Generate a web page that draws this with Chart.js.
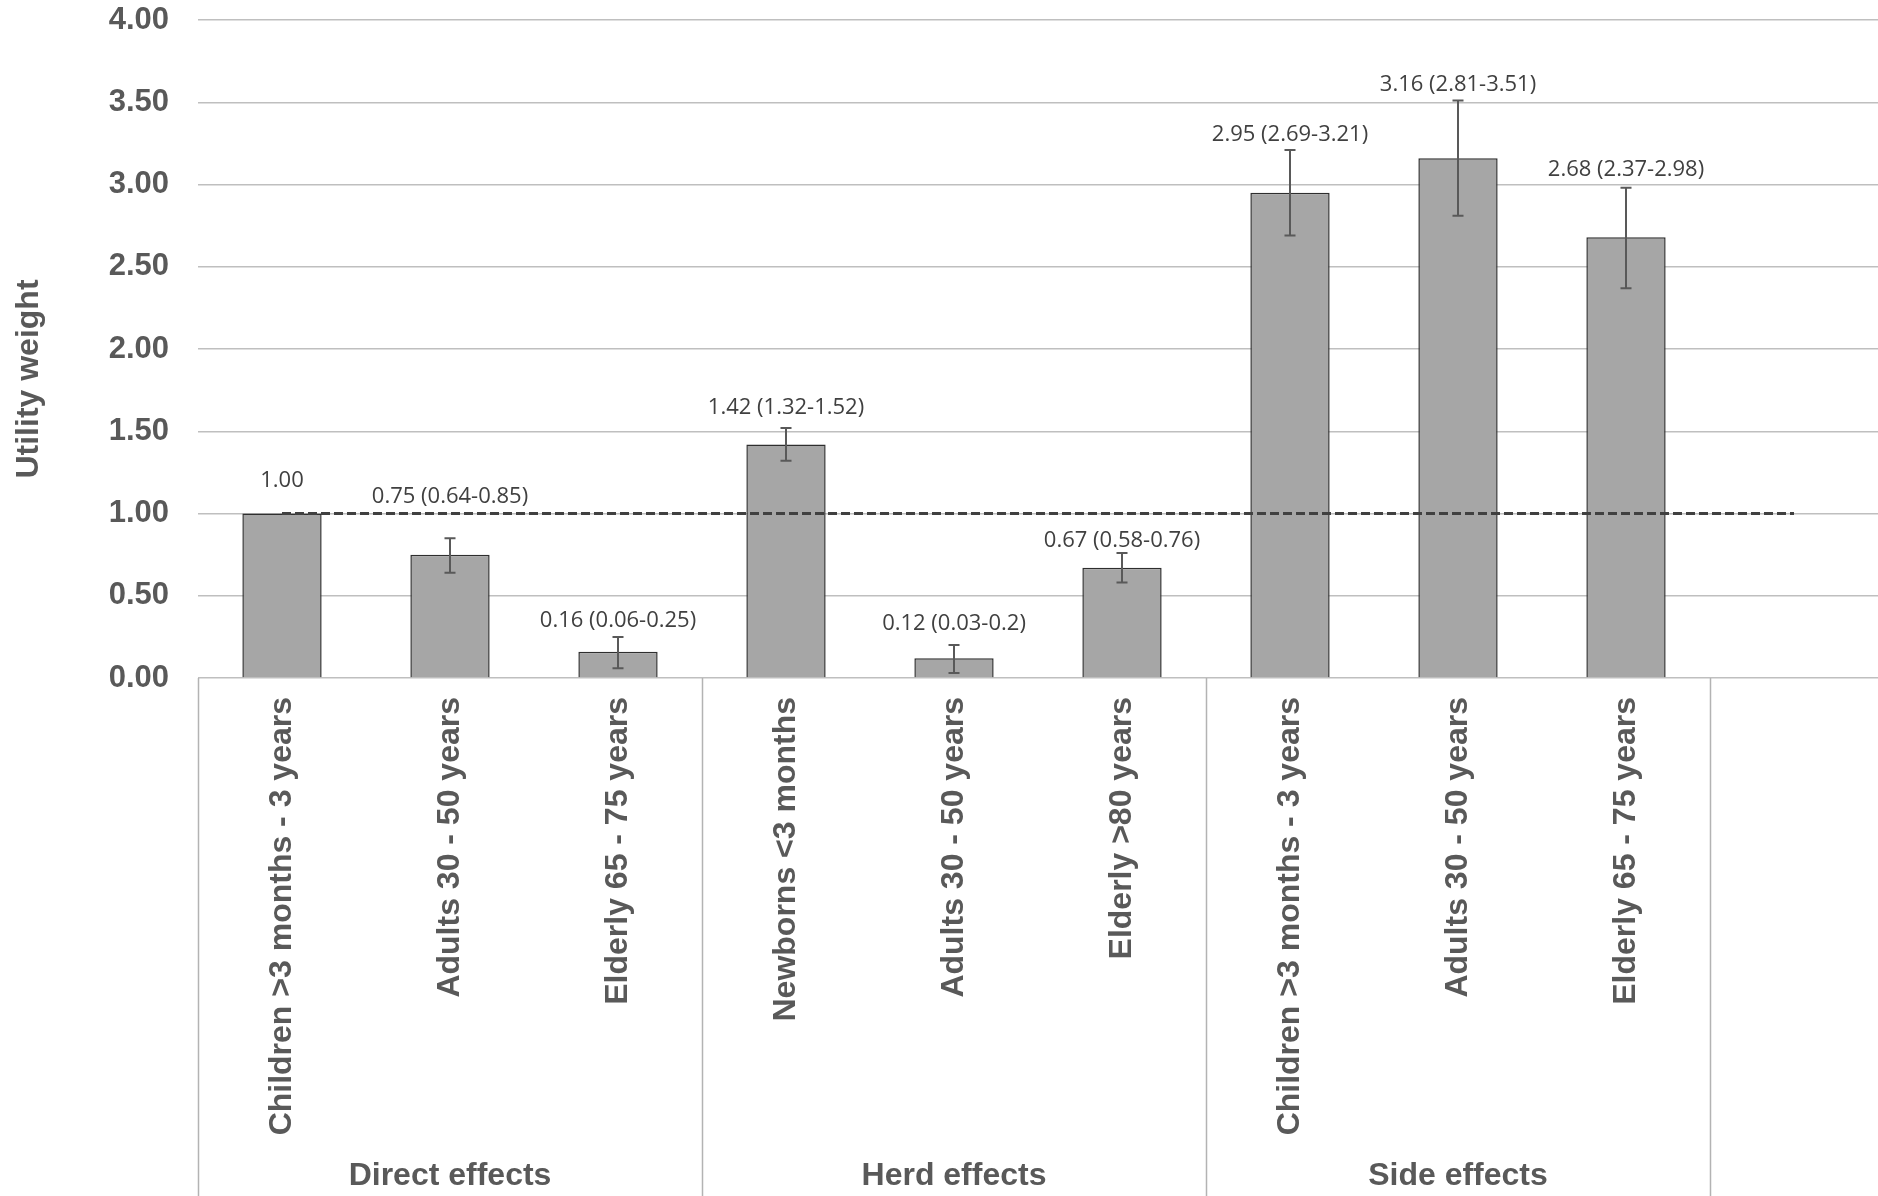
<!DOCTYPE html>
<html>
<head>
<meta charset="utf-8">
<title>Utility weights</title>
<script src="https://cdn.jsdelivr.net/npm/chart.js@4.4.1/dist/chart.umd.min.js"></script>
<style>
  html, body { margin: 0; padding: 0; background: #ffffff; }
  canvas { display: block; }
</style>
</head>
<body>
<canvas id="chart" width="1878" height="1196"></canvas>
<script>
// Attribute levels (the trailing empty slot keeps the reference line running past the last bar)
const categories = [
  'Children >3 months - 3 years', 'Adults 30 - 50 years', 'Elderly 65 - 75 years',
  'Newborns <3 months', 'Adults 30 - 50 years', 'Elderly >80 years',
  'Children >3 months - 3 years', 'Adults 30 - 50 years', 'Elderly 65 - 75 years',
  ''
];
const groups = ['Direct effects', 'Herd effects', 'Side effects'];
const groupSizes = [3, 3, 3];

// Utility weights with 95% confidence limits
const weights = [1.00, 0.75, 0.16, 1.42, 0.12, 0.67, 2.95, 3.16, 2.68, null];
const ciLow   = [null, 0.64, 0.06, 1.32, 0.03, 0.58, 2.69, 2.81, 2.37, null];
const ciHigh  = [null, 0.85, 0.25, 1.52, 0.20, 0.76, 3.21, 3.51, 2.98, null];

// Reference level (weight of the base attribute)
const referenceLevel = [1, 1, 1, 1, 1, 1, 1, 1, 1, 1];

const yTicks = [0, 0.5, 1, 1.5, 2, 2.5, 3, 3.5, 4];
const yTitle = 'Utility weight';

// --- drawing ---
const AXIS_FONT = 'Liberation Sans, Arial, sans-serif';
const LABEL_FONT = '"Open Sans", sans-serif';
const TEXT_GREY = '#595959';
// how far (px) each value label sits above its whisker / bar top
const labelLift = [33, 41, 16, 20.5, 21, 12.5, 15.5, 16, 18, 0];

function labelText(i) {
  const v = weights[i].toFixed(2);
  if (ciLow[i] == null) return v;
  return v + ' (' + String(ciLow[i]) + '-' + String(ciHigh[i]) + ')';
}

const decorations = {
  id: 'decorations',
  afterDatasetsDraw(chart) {
    const { ctx, scales: { x, y } } = chart;
    ctx.save();
    // error bars
    ctx.strokeStyle = '#595959';
    ctx.lineWidth = 2;
    const cap = 5.5;
    for (let i = 0; i < weights.length; i++) {
      if (ciLow[i] == null) continue;
      const px = x.getPixelForValue(i);
      const yl = y.getPixelForValue(ciLow[i]);
      const yh = y.getPixelForValue(ciHigh[i]);
      ctx.beginPath();
      ctx.moveTo(px, yl); ctx.lineTo(px, yh);
      ctx.moveTo(px - cap, yl); ctx.lineTo(px + cap, yl);
      ctx.moveTo(px - cap, yh); ctx.lineTo(px + cap, yh);
      ctx.stroke();
    }
    // value labels
    ctx.fillStyle = '#404040';
    ctx.font = '22px ' + LABEL_FONT;
    ctx.textAlign = 'center';
    ctx.textBaseline = 'middle';
    for (let i = 0; i < weights.length; i++) {
      if (weights[i] == null) continue;
      const top = ciHigh[i] != null ? ciHigh[i] : weights[i];
      const px = x.getPixelForValue(i);
      const py = y.getPixelForValue(top) - labelLift[i];
      ctx.fillText(labelText(i), px, py);
    }
    ctx.restore();
  },
  afterDraw(chart) {
    const { ctx, scales: { x }, chartArea } = chart;
    const bottom = chart.height;
    ctx.save();
    // group boxes below the axis
    ctx.strokeStyle = '#b3b3b3';
    ctx.lineWidth = 1.5;
    let start = 0;
    const bounds = [-0.5];
    groupSizes.forEach(n => { start += n; bounds.push(start - 0.5); });
    ctx.beginPath();
    bounds.forEach(b => {
      const bx = Math.round(x.getPixelForValue(b)) + 0.5;
      ctx.moveTo(bx, chartArea.bottom);
      ctx.lineTo(bx, bottom);
    });
    ctx.stroke();
    // group names
    ctx.fillStyle = TEXT_GREY;
    ctx.font = 'bold 32px ' + AXIS_FONT;
    ctx.textAlign = 'center';
    ctx.textBaseline = 'middle';
    start = 0;
    groups.forEach((g, k) => {
      const cx = x.getPixelForValue(start + (groupSizes[k] - 1) / 2);
      ctx.fillText(g, cx, 1176);
      start += groupSizes[k];
    });
    // y axis title
    ctx.font = 'bold 32px ' + AXIS_FONT;
    ctx.translate(29, 379);
    ctx.rotate(-Math.PI / 2);
    ctx.fillText(yTitle, 0, 0);
    ctx.restore();
  }
};

new Chart(document.getElementById('chart'), {
  data: {
    labels: categories,
    datasets: [
      {
        type: 'line',
        data: referenceLevel,
        borderColor: '#404040',
        borderWidth: 3,
        borderDash: [9, 4],
        pointRadius: 0,
        fill: false,
        order: 0
      },
      {
        type: 'bar',
        data: weights,
        backgroundColor: '#a6a6a6',
        borderColor: '#2e2e2e',
        borderWidth: 1.5,
        categoryPercentage: 1,
        barPercentage: 0.472,
        order: 1
      }
    ]
  },
  options: {
    responsive: false,
    animation: false,
    devicePixelRatio: 1,
    layout: { padding: { top: 20, right: 0, bottom: 0, left: 0 } },
    plugins: { legend: { display: false }, tooltip: { enabled: false } },
    scales: {
      x: {
        offset: true,
        grid: { display: false, drawTicks: false },
        border: { display: false },
        ticks: {
          autoSkip: false,
          minRotation: 90,
          maxRotation: 90,
          padding: 19,
          color: TEXT_GREY,
          font: { family: AXIS_FONT, size: 32, weight: 'bold' }
        },
        afterFit(scale) {
          scale.height = 518;
          scale.paddingLeft = 0;
          scale.paddingRight = 0;
        }
      },
      y: {
        min: 0,
        max: 4,
        afterBuildTicks(scale) { scale.ticks = yTicks.map(v => ({ value: v })); },
        grid: { color: '#bfbfbf', lineWidth: 1.5, drawTicks: false },
        border: { display: false },
        ticks: {
          padding: 29,
          color: TEXT_GREY,
          font: { family: AXIS_FONT, size: 31, weight: 'bold' },
          callback: v => Number(v).toFixed(2)
        },
        afterFit(scale) {
          scale.width = 198;
          scale.paddingTop = 0;
          scale.paddingBottom = 0;
        }
      }
    }
  },
  plugins: [decorations]
});
</script>
</body>
</html>
